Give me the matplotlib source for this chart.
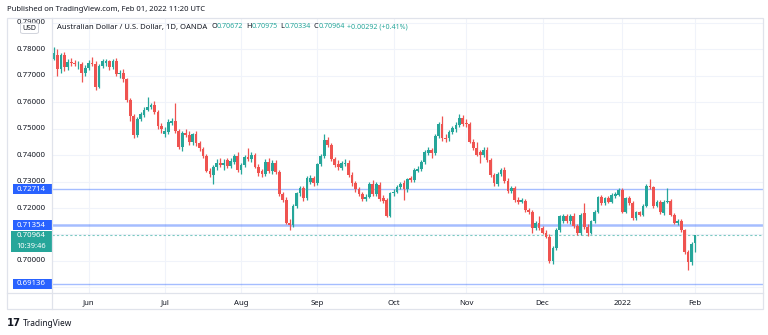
import matplotlib
matplotlib.use("Agg")
import matplotlib.pyplot as plt
from matplotlib.patches import Rectangle, FancyBboxPatch
from matplotlib.lines import Line2D
import numpy as np
import pandas as pd

plt.rcParams['font.family'] = ['Noto Sans', 'DejaVu Sans']

# ---------------- data ----------------
start_date = '2021-05-18'
end_date = '2022-02-01'

opens = [
    .7765, .7780, .7727, .7777, .7733, .7752, .7750, .7743, .7746, .7711,
    .7731, .7748, .7745, .7658, .7736, .7750, .7755, .7733, .7756, .7705,
    .7712, .7686, .7608, .7547, .7475, .7538, .7551, .7572, .7582, .7589,
    .7563, .7509, .7480, .7488, .7522, .7530, .7492, .7429, .7484, .7475,
    .7450, .7478, .7444, .7423, .7398, .7341, .7325, .7356, .7372, .7362,
    .7381, .7358, .7375, .7396, .7343, .7362, .7394, .7384, .7400, .7356,
    .7340, .7330, .7375, .7340, .7371, .7337, .7253, .7230, .7145, .7136,
    .7208, .7255, .7274, .7236, .7300, .7312, .7293, .7366, .7396, .7457,
    .7438, .7384, .7366, .7350, .7366, .7371, .7325, .7293, .7271, .7253,
    .7233, .7243, .7291, .7253, .7287, .7236, .7230, .7170, .7255, .7262,
    .7281, .7293, .7271, .7312, .7306, .7341, .7346, .7375, .7409, .7419,
    .7409, .7472, .7517, .7466, .7463, .7488, .7497, .7513, .7542, .7520,
    .7517, .7450, .7425, .7412, .7400, .7421, .7381, .7325, .7291, .7328,
    .7343, .7303, .7265, .7274, .7230, .7224, .7228, .7192, .7186, .7124,
    .7143, .7124, .7107, .7092, .6998, .7049, .7117, .7149, .7170, .7149,
    .7170, .7132, .7105, .7180, .7130, .7107, .7149, .7186, .7240, .7218,
    .7236, .7224, .7245, .7249, .7268, .7186, .7236, .7220, .7161, .7183,
    .7174, .7208, .7283, .7278, .7208, .7224, .7180, .7224, .7228, .7174,
    .7143, .7149, .7115, .7032, .6994, .70672,
]
highs = [
    .7809, .7800, .7785, .7790, .7762, .7766, .7760, .7756, .7752, .7740,
    .7758, .7770, .7756, .7745, .7765, .7762, .7760, .7765, .7767, .7722,
    .7727, .7692, .7616, .7556, .7545, .7562, .7580, .7618, .7598, .7605,
    .7570, .7520, .7505, .7535, .7540, .7597, .7500, .7490, .7498, .7490,
    .7485, .7490, .7455, .7432, .7405, .7352, .7362, .7385, .7388, .7385,
    .7390, .7388, .7405, .7410, .7370, .7402, .7425, .7410, .7408, .7365,
    .7348, .7385, .7390, .7380, .7380, .7345, .7262, .7240, .7160, .7215,
    .7262, .7282, .7285, .7320, .7325, .7322, .7372, .7405, .7478, .7468,
    .7445, .7392, .7380, .7378, .7385, .7382, .7335, .7302, .7280, .7262,
    .7252, .7300, .7305, .7298, .7298, .7248, .7236, .7262, .7272, .7288,
    .7298, .7305, .7315, .7322, .7350, .7360, .7382, .7418, .7432, .7428,
    .7478, .7525, .7548, .7478, .7495, .7510, .7525, .7556, .7552, .7535,
    .7525, .7462, .7450, .7420, .7430, .7432, .7388, .7332, .7335, .7352,
    .7355, .7312, .7282, .7283, .7240, .7238, .7235, .7200, .7192, .7150,
    .7170, .7132, .7115, .7100, .7055, .7125, .7175, .7178, .7178, .7178,
    .7180, .7140, .7182, .7218, .7138, .7155, .7192, .7246, .7250, .7242,
    .7245, .7256, .7262, .7277, .7274, .7242, .7245, .7228, .7190, .7190,
    .7214, .7290, .7310, .7285, .7232, .7232, .7230, .7274, .7234, .7180,
    .7158, .7158, .7122, .7040, .7070, .70975,
]
lows = [
    .7758, .7700, .7712, .7718, .7722, .7738, .7735, .7725, .7677, .7700,
    .7722, .7735, .7648, .7652, .7728, .7738, .7722, .7725, .7700, .7692,
    .7676, .7600, .7530, .7465, .7468, .7528, .7545, .7565, .7574, .7556,
    .7500, .7482, .7468, .7478, .7515, .7485, .7422, .7415, .7470, .7440,
    .7438, .7435, .7415, .7388, .7335, .7316, .7291, .7345, .7355, .7345,
    .7350, .7350, .7368, .7335, .7330, .7355, .7378, .7375, .7350, .7320,
    .7318, .7322, .7332, .7328, .7330, .7245, .7222, .7138, .7117, .7128,
    .7200, .7245, .7228, .7230, .7292, .7285, .7288, .7358, .7390, .7430,
    .7378, .7355, .7345, .7342, .7358, .7318, .7285, .7262, .7245, .7225,
    .7225, .7236, .7245, .7245, .7226, .7220, .7165, .7165, .7246, .7255,
    .7272, .7230, .7262, .7300, .7298, .7335, .7340, .7368, .7402, .7388,
    .7400, .7465, .7455, .7450, .7455, .7478, .7488, .7505, .7510, .7505,
    .7445, .7418, .7395, .7370, .7392, .7375, .7318, .7285, .7282, .7320,
    .7296, .7258, .7255, .7222, .7215, .7218, .7185, .7178, .7105, .7115,
    .7115, .7100, .7085, .6992, .6990, .7040, .7110, .7142, .7142, .7140,
    .7125, .7098, .7098, .7122, .7095, .7100, .7142, .7180, .7212, .7210,
    .7218, .7218, .7238, .7244, .7180, .7180, .7212, .7155, .7155, .7168,
    .7168, .7202, .7272, .7200, .7202, .7178, .7174, .7218, .7168, .7138,
    .7136, .7108, .7025, .6967, .6985, .70334,
]
closes = [
    .7786, .7727, .7777, .7733, .7752, .7749, .7743, .7746, .7711, .7731,
    .7748, .7745, .7658, .7736, .7756, .7755, .7733, .7756, .7708, .7712,
    .7686, .7608, .7547, .7475, .7538, .7555, .7572, .7582, .7589, .7563,
    .7509, .7497, .7492, .7526, .7530, .7492, .7429, .7482, .7475, .7450,
    .7478, .7444, .7425, .7396, .7341, .7328, .7356, .7372, .7362, .7372,
    .7358, .7379, .7396, .7343, .7362, .7394, .7384, .7400, .7356, .7331,
    .7330, .7375, .7340, .7371, .7337, .7253, .7230, .7145, .7136, .7208,
    .7255, .7274, .7236, .7312, .7312, .7293, .7366, .7396, .7457, .7438,
    .7384, .7362, .7354, .7371, .7371, .7325, .7293, .7271, .7253, .7233,
    .7243, .7291, .7253, .7290, .7233, .7228, .7170, .7255, .7262, .7281,
    .7291, .7271, .7308, .7306, .7343, .7346, .7375, .7412, .7419, .7409,
    .7472, .7517, .7463, .7459, .7488, .7501, .7513, .7542, .7517, .7517,
    .7450, .7425, .7400, .7400, .7421, .7381, .7325, .7293, .7328, .7343,
    .7303, .7265, .7274, .7230, .7224, .7230, .7192, .7186, .7124, .7143,
    .7124, .7107, .7092, .6998, .7049, .7117, .7168, .7170, .7149, .7170,
    .7132, .7105, .7174, .7130, .7107, .7149, .7186, .7240, .7218, .7236,
    .7224, .7249, .7253, .7268, .7186, .7236, .7220, .7161, .7183, .7174,
    .7208, .7283, .7278, .7208, .7224, .7183, .7224, .7228, .7174, .7143,
    .7149, .7115, .7032, .6994, .7064, .70964,
]

price_ticks = [0.69, 0.70, 0.71, 0.72, 0.73, 0.74, 0.75, 0.76, 0.77, 0.78, 0.79]
hidden_tick_labels = [0.69, 0.71]   # covered by the level / last-price boxes
level_prices = [0.72714, 0.71354, 0.69136]
level_widths = [1.0, 1.8, 1.0]
last_price = 0.70964
countdown = '10:39:46'
currency = 'USD'
header = 'Published on TradingView.com, Feb 01, 2022 11:20 UTC'
symbol_title = 'Australian Dollar / U.S. Dollar, 1D, OANDA'
ohlc_labels = ['O', 'H', 'L', 'C']
ohlc_values = ['0.70672', '0.70975', '0.70334', '0.70964']
change_text = '+0.00292 (+0.41%)'
brand = 'TradingView'

# ---------------- styling / layout ----------------
W, H = 768, 335
UP, DOWN = '#26a69a', '#ef5350'
TXT = '#131722'
GRID = '#f0f3fa'
BORDER = '#e0e3eb'
BLUE = '#2962ff'

def fx(px):
    return px / W

def fy(py):
    return 1 - py / H

PL, PR, PT, PB = 52.3, 763.0, 18.0, 293.3
FL, FB = 6.7, 309.0
Y_REF_P, Y_REF_PX, PX_PER_UNIT = 0.78, 49.3, 2645.0
ylim = (Y_REF_P - (PB - Y_REF_PX) / PX_PER_UNIT, Y_REF_P + (Y_REF_PX - PT) / PX_PER_UNIT)
n = len(closes)
bar_px = (695.0 - 54.0) / (n - 1)
xlim = ((PL - 54.0) / bar_px, (PR - 54.0) / bar_px)

dates = pd.bdate_range(start_date, end_date)
assert len(dates) == n

month_idx, month_lab = [], []
for i in range(1, n):
    if dates[i].month != dates[i - 1].month:
        month_idx.append(i)
        month_lab.append(str(dates[i].year) if dates[i].month == 1 else dates[i].strftime('%b'))

fig = plt.figure(figsize=(W / 100, H / 100), dpi=100)
fig.patch.set_facecolor('white')

ax = fig.add_axes([fx(PL), fy(PB), fx(PR) - fx(PL), fy(PT) - fy(PB)])
ax.set_xlim(*xlim)
ax.set_ylim(*ylim)
for s in ax.spines.values():
    s.set_visible(False)
ax.set_yticks(price_ticks)
ax.set_xticks(month_idx)
ax.set_xticklabels(month_lab, fontsize=5.6, color=TXT)
ax.tick_params(axis='x', length=0, pad=4.5)
ax.tick_params(axis='y', length=0, labelleft=False)
ax.grid(True, color=GRID, lw=0.8, zorder=0)
ax.set_axisbelow(True)

o = np.array(opens); h = np.array(highs); l = np.array(lows); c = np.array(closes)
x = np.arange(n)
cols = np.where(c >= o, UP, DOWN)
ax.vlines(x, l, h, colors=cols, lw=0.9, zorder=3)
body_h = np.maximum(np.abs(c - o), 0.00005)
ax.bar(x, body_h, bottom=np.minimum(o, c), width=0.8, color=cols, linewidth=0, zorder=4)

for p, lw in zip(level_prices, level_widths):
    ax.axhline(p, color=BLUE, alpha=0.42, lw=lw, zorder=2)
ax.axhline(last_price, color=UP, alpha=0.6, lw=0.8, ls=(0, (2, 2)), zorder=2)

# ---------------- price scale panel ----------------
axp = fig.add_axes([fx(FL), fy(PB), fx(PL) - fx(FL), fy(PT) - fy(PB)])
axp.set_xlim(0, 1)
axp.set_ylim(*ylim)
axp.axis('off')
LX = 0.53
for p in price_ticks:
    if p in hidden_tick_labels:
        continue
    axp.text(LX, p, f'{p:.5f}', ha='center', va='center', fontsize=5.6, color=TXT, zorder=1)
box_h = 10.0 / PX_PER_UNIT
for p in level_prices:
    axp.add_patch(Rectangle((0.13, p - box_h / 2), 0.87, box_h, facecolor=BLUE,
                            edgecolor='none', zorder=3))
    axp.text(LX, p, f'{p:.5f}', ha='center', va='center', fontsize=5.6, color='white', zorder=4)
g_top = Y_REF_P - (230.7 - Y_REF_PX) / PX_PER_UNIT
g_bot = Y_REF_P - (251.7 - Y_REF_PX) / PX_PER_UNIT
axp.add_patch(Rectangle((0.088, g_bot), 0.912, g_top - g_bot, facecolor=UP,
                        edgecolor='none', zorder=3))
axp.text(LX, last_price, f'{last_price:.5f}', ha='center', va='center', fontsize=5.6,
         color='white', zorder=4)
axp.text(LX, Y_REF_P - (246.5 - Y_REF_PX) / PX_PER_UNIT, countdown, ha='center',
         va='center', fontsize=5.4, color='white', zorder=4)

# ---------------- frame ----------------
fig.add_artist(Rectangle((fx(FL), fy(FB)), fx(PR) - fx(FL), fy(PT) - fy(FB),
                         transform=fig.transFigure, fill=False, ec=BORDER, lw=0.9, zorder=6))
fig.add_artist(Line2D([fx(PL), fx(PL)], [fy(FB), fy(PT)], transform=fig.transFigure,
                      color=BORDER, lw=0.9, zorder=6))
fig.add_artist(Line2D([fx(FL), fx(PR)], [fy(PB), fy(PB)], transform=fig.transFigure,
                      color=BORDER, lw=0.9, zorder=6))

fig.add_artist(FancyBboxPatch((fx(20.5), fy(33.5)), fx(38.5) - fx(20.5), fy(23) - fy(33.5),
                              boxstyle='round,pad=0,rounding_size=0.004',
                              transform=fig.transFigure, fc='white', ec='#d1d4dc', lw=0.7,
                              zorder=7))
fig.text(fx(29.5), fy(28.3), currency, ha='center', va='center', fontsize=5.0, color=TXT,
         zorder=8)

fig.text(fx(6.7), fy(9.5), header, ha='left', va='center', fontsize=5.5, color=TXT)

fig.canvas.draw()
r = fig.canvas.get_renderer()
cx = 57.0
ly = fy(27.0)

def put(s, col, size, gap=0.0):
    global cx
    t = fig.text(fx(cx), ly, s, ha='left', va='center', fontsize=size, color=col, zorder=8)
    cx += t.get_window_extent(renderer=r).width + gap

put(symbol_title, TXT, 5.5, gap=4.0)
for lab, val in zip(ohlc_labels, ohlc_values):
    put(lab, TXT, 5.3)
    put(val, UP, 5.1, gap=2.8)
put(change_text, UP, 5.1)

fig.text(fx(7.0), fy(323.5), '17', ha='left', va='center', fontsize=7.2, fontweight='heavy',
         color=TXT, family='DejaVu Sans')
fig.text(fx(22.5), fy(323.5), brand, ha='left', va='center', fontsize=6.0, color=TXT)

fig.savefig('out.png', dpi=100, facecolor='white')
